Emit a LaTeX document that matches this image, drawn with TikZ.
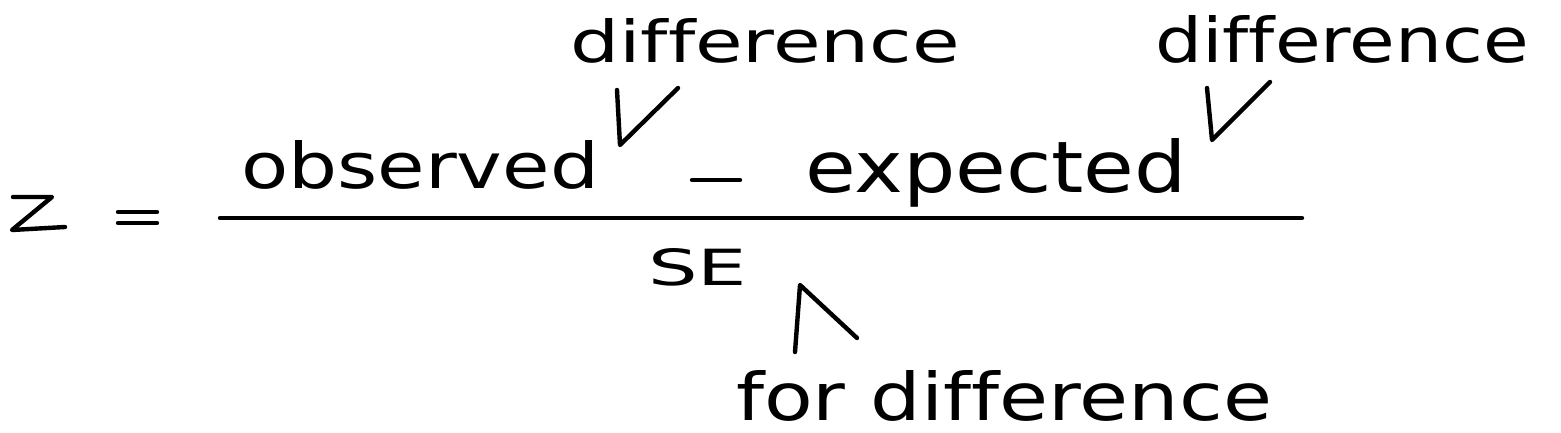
\documentclass[tikz,border=0pt]{standalone}
\usepackage{fontspec}
\setmainfont[Ligatures=CommonOff]{DejaVu Sans}
\usepackage{graphicx}
\newlength\pxu
\setlength\pxu{0.5pt}
\newcommand\fitt[3]{\resizebox{#1\pxu}{#2\pxu}{#3}}
\tikzset{
  lbl/.style={inner sep=0pt, outer sep=0pt, anchor=base west},
  pen/.style={line width=2.2pt, line cap=round, line join=round},
}
\begin{document}
\begin{tikzpicture}[x=0.5pt,y=-0.5pt]
\path[use as bounding box] (0,0) rectangle (1561,433);
% z =
\draw[pen] (13,197) -- (52,197) -- (12,230) -- (65,227);
\draw[pen] (118,212) -- (157,212);
\draw[pen] (118,223) -- (157,223);
% fraction bar
\coordinate (barL) at (220,218);
\coordinate (barR) at (1302,218);
\draw[pen] (barL) -- (barR);
% numerator
\node[lbl] (obs) at (241,188) {\fitt{358}{48}{observed}};
\draw[pen] (692,180) -- (740,180);
\node[lbl] (exp) at (805,192) {\fitt{382}{54}{expected}};
% denominator
\node[lbl] (se) at (648,285) {\fitt{99}{37}{SE}};
% annotations
\node[lbl] (d1) at (570,62) {\fitt{390}{44}{difference}};
\node[lbl] (d2) at (1155,62) {\fitt{374}{47}{difference}};
\node[lbl] (d3) at (736,420) {\fitt{536}{50}{for difference}};
% check marks and caret
\draw[pen] (617,90) -- (620,145) -- (678,88);
\draw[pen] (1207,88) -- (1212,140) -- (1270,82);
\draw[pen] (795,352) -- (800,285) -- (857,338);
\end{tikzpicture}
\end{document}
